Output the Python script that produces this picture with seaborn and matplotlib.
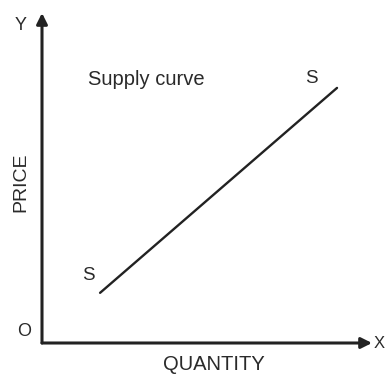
import matplotlib
matplotlib.use("Agg")
import matplotlib.pyplot as plt
import seaborn as sns
import pandas as pd

# Supply schedule: quantity supplied rises with price
quantity = [1.76, 8.94]
price = [1.52, 7.73]

title_text = "Supply curve"
curve_label = "S"
x_label = "QUANTITY"
y_label = "PRICE"
origin_label = "O"
x_axis_name = "X"
y_axis_name = "Y"

sns.set_style("white")
plt.rcParams["font.family"] = ["Liberation Sans", "DejaVu Sans"]

ink = "#222222"
text_ink = "#2a2a2a"

W, H = 385, 376
fig = plt.figure(figsize=(W / 100, H / 100), dpi=100)
fig.patch.set_facecolor("white")

# axes frame: origin at the corner, arrows at the far ends
left, bottom_px, right, top = 42, 343, 372, 13
ax = fig.add_axes([left / W, (H - bottom_px) / H,
                   (right - left) / W, (bottom_px - top) / H])
ax.set_xlim(0, 10)
ax.set_ylim(0, 10)
for s in ax.spines.values():
    s.set_visible(False)
ax.set_xticks([])
ax.set_yticks([])
ax.set_facecolor("none")

arrow_kw = dict(arrowstyle="-|>", lw=2.2, color=ink, mutation_scale=16,
                shrinkA=0, shrinkB=0)
ax.annotate("", xy=(1, 0), xytext=(0, 0), xycoords="axes fraction",
            arrowprops=arrow_kw, annotation_clip=False)
ax.annotate("", xy=(0, 1), xytext=(0, 0), xycoords="axes fraction",
            arrowprops=arrow_kw, annotation_clip=False)

df = pd.DataFrame({"Quantity": quantity, "Price": price})
sns.lineplot(data=df, x="Quantity", y="Price", ax=ax, color=ink, lw=1.7)
ax.set_xlabel("")
ax.set_ylabel("")

# curve labels at each end of the line
ax.text(quantity[0] - 0.34, price[0] + 0.54, curve_label, fontsize=13.5,
        color=text_ink, ha="center", va="center")
ax.text(quantity[1] - 0.79, price[1] + 0.30, curve_label, fontsize=13.5,
        color=text_ink, ha="center", va="center")
ax.text(3.15, 7.97, title_text, fontsize=14.5, color=text_ink,
        ha="center", va="center")

def fig_text(px, py, s, ha="center", **kw):
    fig.text(px / W, 1 - py / H, s, color=text_ink, ha=ha,
             va="center", **kw)

fig_text(21, 182, y_label, fontsize=14, rotation=90)
fig_text(214, 365, x_label, fontsize=14.5)
fig_text(24, 331, origin_label, fontsize=13)
fig_text(21, 25, y_axis_name, fontsize=13)
fig_text(374, 343, x_axis_name, ha="left", fontsize=12)

fig.savefig("out.png", dpi=100, facecolor="white")
